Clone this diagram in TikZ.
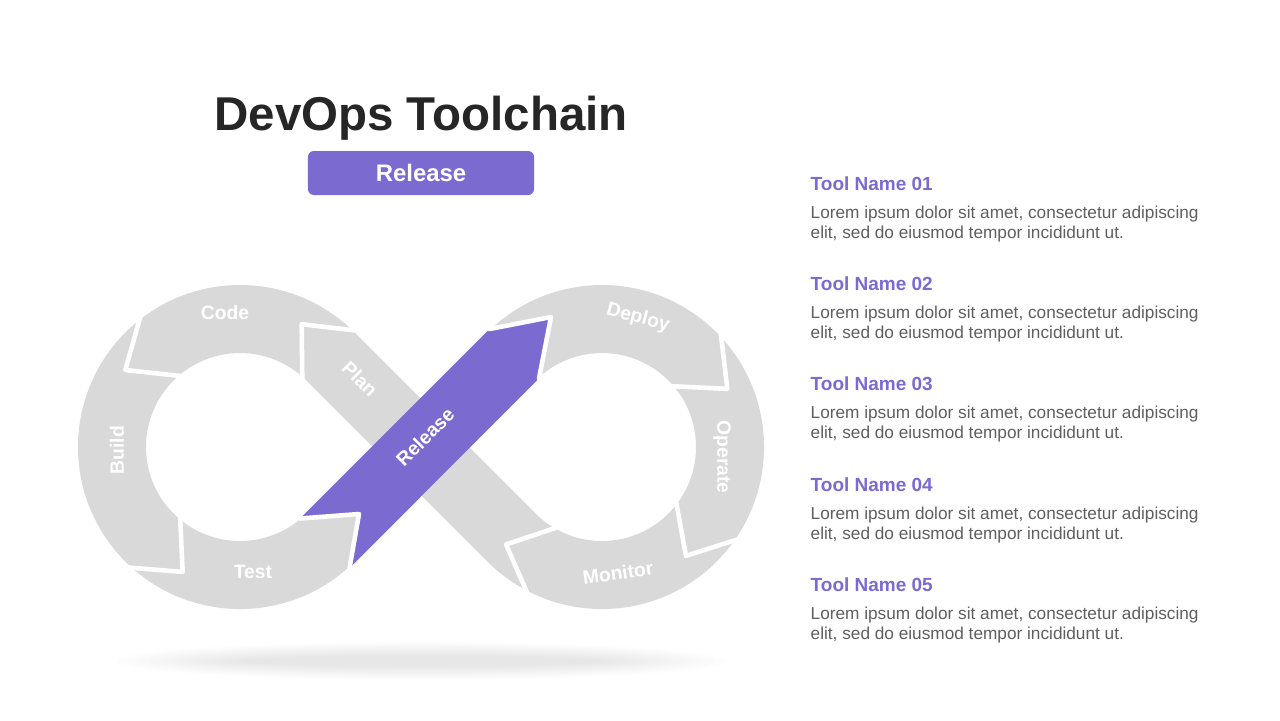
\documentclass[tikz,border=0pt]{standalone}
\usepackage{fontspec}
\setmainfont{Liberation Sans}
\usetikzlibrary{calc}
\definecolor{bandgray}{RGB}{217,217,217}
\definecolor{relpurple}{RGB}{123,106,208}
\definecolor{titlegray}{RGB}{38,38,38}
\definecolor{bodygray}{RGB}{95,95,95}
\begin{document}
\begin{tikzpicture}[x=0.01cm, y=-0.01cm,
  band/.style={draw=bandgray, line width=0.68cm, line join=round},
  sepline/.style={draw=white, line width=1.3pt, line join=round, line cap=round},
  lbl/.style={text=white, inner sep=0pt, font=\fontsize{5.5}{6}\selectfont\bfseries},
  toolhead/.style={text=relpurple, inner sep=0pt, anchor=base west, font=\fontsize{5.4}{6}\selectfont\bfseries},
  toolbody/.style={text=bodygray, inner sep=0pt, anchor=base west, font=\fontsize{4.9}{5.7}\selectfont}]
\useasboundingbox (0,0) rectangle (1280,720);
\fill[white] (0,0) rectangle (1280,720);

% soft shadow under the loop
\foreach \k in {0,...,11}
  \fill[black, opacity=0.006] (421,661) ellipse ({305-\k*11} and {19-\k*1.2});

\coordinate (cl) at (240,447);
\coordinate (cr) at (602,447);

% the infinity band
\draw[band] (330.5,537.5) -- (511.5,356.5) arc[start angle=-135, end angle=135, radius=128]
  -- (330.5,356.5) arc[start angle=-45, end angle=-315, radius=128] -- cycle;

% chevron cuts, left loop
\draw[sepline] ($(cl)+(-42:172)$) -- ($(cl)+(-42:128)+(-132:50)$) -- ($(cl)+(-42:84)$);
\draw[sepline] ($(cl)+(236:172)$) -- ($(cl)+(236:128)+(146:52)$) -- ($(cl)+(236:84)$);
\draw[sepline] ($(cl)+(136:172)$) -- ($(cl)+(136:128)+(46:50)$) -- ($(cl)+(136:84)$);
% chevron cuts, right loop
\draw[sepline] ($(cr)+(-47:172)$) -- ($(cr)+(-47:128)+(43:52)$) -- ($(cr)+(-47:84)$);
\draw[sepline] ($(cr)+(31:172)$) -- ($(cr)+(31:128)+(121:50)$) -- ($(cr)+(31:84)$);
\draw[sepline] ($(cr)+(114:172)$) -- ($(cr)+(114:128)+(204:48)$) -- ($(cr)+(114:84)$);

% release arrow
\fill[relpurple] (300,518.5) -- (359,514) -- (349.5,568) -- (539,378.4) -- (551,317) -- (489.6,329) -- cycle;
\draw[sepline] (300,518.5) -- (359,514) -- (349.5,568);
\draw[sepline] (489.6,329) -- (551,317) -- (539,378.4);

\node[lbl] (code) at (225,313) {Code};
\node[lbl, rotate=90] (build) at (117,450) {Build};
\node[lbl] (test) at (253,572) {Test};
\node[lbl, rotate=-45] (plan) at (360,379) {Plan};
\node[lbl, rotate=45] (release) at (425,437) {Release};
\node[lbl, rotate=-15] (deploy) at (638,318) {Deploy};
\node[lbl, rotate=-90] (operate) at (722,457) {Operate};
\node[lbl, rotate=8] (monitor) at (618,573) {Monitor};

% heading
\node[text=titlegray, inner sep=0pt, anchor=base, font=\fontsize{13.5}{15}\selectfont\bfseries] (title) at (421,130) {DevOps Toolchain};
\node[fill=relpurple, rounded corners=0.06cm, minimum width=2.26cm, minimum height=0.44cm,
  text=white, inner sep=0pt, font=\fontsize{6.8}{7}\selectfont\bfseries] (stage) at (421,173) {Release};

% tool list
\foreach \i/\y in {1/190,2/290,3/390,4/491,5/591} {
  \node[toolhead] (tool\i) at (810,\y) {Tool Name 0\i};
  \node[toolbody] (desca\i) at (810,\y+28) {Lorem ipsum dolor sit amet, consectetur adipiscing};
  \node[toolbody] (descb\i) at (810,\y+48) {elit, sed do eiusmod tempor incididunt ut.};
}
\end{tikzpicture}
\end{document}
